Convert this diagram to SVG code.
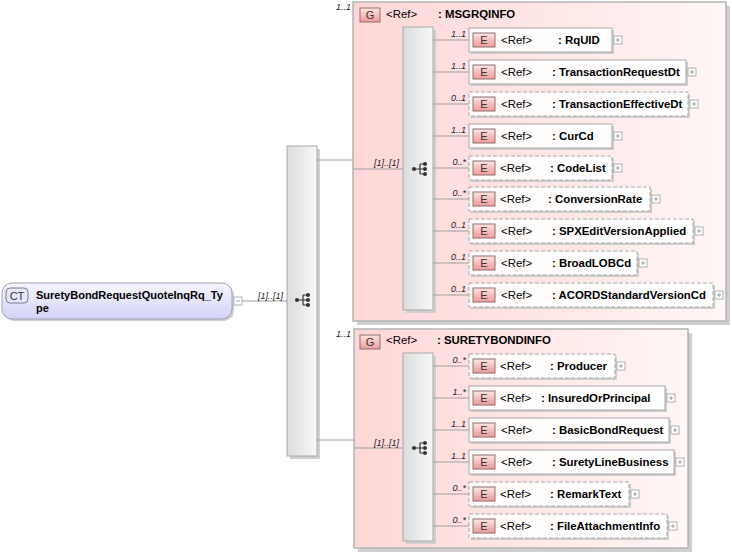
<svg xmlns="http://www.w3.org/2000/svg" xmlns:xlink="http://www.w3.org/1999/xlink" width="732" height="558" viewBox="0 0 732 558">
<style>
text{font-family:"Liberation Sans",Arial,sans-serif;fill:#000}
.nm{font-size:11.4px;font-weight:bold}
.rf{font-size:11.4px}
.card{font-size:9px;font-style:italic;fill:#222}
.badge{font-size:11px;fill:#333;text-anchor:middle}
.conn{stroke:#a0a0a0;stroke-width:1;fill:none}
.shadow{fill:#cfcfcf}
.el{fill:url(#elg);stroke:#a8a8a8;stroke-width:1}
.opt{stroke-dasharray:4,2}
.seq{fill:url(#seqg);stroke:#a8a8a8;stroke-width:1}
.grp{fill:url(#grpg);stroke:#b4b4b4;stroke-width:1.5}
.bdg{fill:url(#bdgg);stroke:#8a7070;stroke-width:1}
.plus{fill:#fff;stroke:#b0b0b0;stroke-width:1}
.pl{stroke:#a0a0a0;stroke-width:1}
</style>
<defs>
<linearGradient id="elg" x1="0" y1="0" x2="1" y2="0"><stop offset="0" stop-color="#fffafa"/><stop offset="1" stop-color="#ffffff"/></linearGradient>
<linearGradient id="seqg" x1="0" y1="0" x2="1" y2="0"><stop offset="0" stop-color="#dcdcdc"/><stop offset="1" stop-color="#f8f8f8"/></linearGradient>
<linearGradient id="grpg" x1="0" y1="0" x2="1" y2="0"><stop offset="0" stop-color="#ffd6d6"/><stop offset="1" stop-color="#fff6f6"/></linearGradient>
<linearGradient id="bdgg" x1="0" y1="0" x2="0" y2="1"><stop offset="0" stop-color="#fde4e4"/><stop offset="1" stop-color="#f09a9a"/></linearGradient>
<linearGradient id="ctg" x1="0" y1="0" x2="0" y2="1"><stop offset="0" stop-color="#f6f6ff"/><stop offset="1" stop-color="#d2d2f6"/></linearGradient>
<g id="seqicon" fill="#333" stroke="#333">
<circle cx="-6" cy="0" r="2" stroke="none"/>
<path d="M-6 0H0M0 -5V5M0 -5H5M0 0H5M0 5H5" stroke-width="1.2" fill="none"/>
<circle cx="5" cy="-5" r="2" stroke="none"/>
<circle cx="5" cy="0" r="2" stroke="none"/>
<circle cx="5" cy="5" r="2" stroke="none"/>
</g>
<g id="plusbox"><rect class="plus" x="0" y="0" width="8" height="8"/><path class="pl" d="M2 4H6M4 2V6"/></g>
</defs>
<rect width="732" height="558" fill="#fff"/>

<g id="ct-root">
<rect x="4" y="285" width="230" height="36" rx="10" fill="#cfcfcf"/>
<rect x="2" y="283" width="230" height="36" rx="10" fill="url(#ctg)" stroke="#a0a0b8" stroke-width="1"/>
<rect x="6" y="288" width="22" height="15" rx="4" fill="#e6e6fa" stroke="#7a7a96"/>
<text class="badge" x="17" y="300">CT</text>
<text class="nm" x="36" y="299" style="font-size:11px">SuretyBondRequestQuoteInqRq_Ty</text>
<text class="nm" x="36" y="312" style="font-size:11px">pe</text>
<rect class="plus" x="234" y="297" width="8" height="8"/>
<path class="pl" d="M236 301H240"/>
</g>

<g id="seq-outer">
<rect class="shadow" x="290" y="149" width="30" height="310"/>
<rect class="seq" x="287" y="146" width="30" height="310"/>
<use xlink:href="#seqicon" x="303" y="300"/>
</g>

<g id="grp-msgrqinfo">
<rect class="shadow" x="357" y="6" width="373" height="319"/>
<rect class="grp" x="353" y="2" width="373" height="319"/>
<text class="card" x="336" y="10">1..1</text>
<rect class="bdg" x="360" y="8" width="20" height="14"/>
<text class="badge" x="370" y="19">G</text>
<text class="rf" x="386" y="18">&lt;Ref&gt;</text>
<text class="nm" x="438" y="18">: MSGRQINFO</text>
<rect class="shadow" x="406" y="30" width="30" height="283"/>
<rect class="seq" x="403" y="27" width="30" height="283"/>
<use xlink:href="#seqicon" x="420" y="169"/>
</g>

<g id="el-rquid">
<path class="conn" d="M433 40H469"/><text class="card" x="466" y="37" text-anchor="end">1..1</text>
<rect class="shadow" x="471" y="30" width="143" height="24"/>
<rect class="el" x="469" y="28" width="143" height="24"/>
<rect class="bdg" x="473" y="33" width="22" height="14"/><text class="badge" x="484" y="44">E</text>
<text class="rf" x="501" y="44">&lt;Ref&gt;</text><text class="nm" x="558" y="44">: RqUID</text>
<use xlink:href="#plusbox" x="614" y="36"/>
</g>
<g id="el-transactionrequestdt">
<path class="conn" d="M433 72H469"/><text class="card" x="466" y="69" text-anchor="end">1..1</text>
<rect class="shadow" x="471" y="62" width="217" height="24"/>
<rect class="el" x="469" y="60" width="217" height="24"/>
<rect class="bdg" x="473" y="65" width="22" height="14"/><text class="badge" x="484" y="76">E</text>
<text class="rf" x="501" y="76">&lt;Ref&gt;</text><text class="nm" x="552" y="76">: TransactionRequestDt</text>
<use xlink:href="#plusbox" x="688" y="68"/>
</g>
<g id="el-transactioneffectivedt">
<path class="conn" d="M433 104H469"/><text class="card" x="466" y="101" text-anchor="end">0..1</text>
<rect class="shadow" x="471" y="94" width="219" height="24"/>
<rect class="el opt" x="469" y="92" width="219" height="24"/>
<rect class="bdg" x="473" y="97" width="22" height="14"/><text class="badge" x="484" y="108">E</text>
<text class="rf" x="501" y="108">&lt;Ref&gt;</text><text class="nm" x="552" y="108">: TransactionEffectiveDt</text>
<use xlink:href="#plusbox" x="690" y="100"/>
</g>
<g id="el-curcd">
<path class="conn" d="M433 136H469"/><text class="card" x="466" y="133" text-anchor="end">1..1</text>
<rect class="shadow" x="471" y="126" width="143" height="24"/>
<rect class="el" x="469" y="124" width="143" height="24"/>
<rect class="bdg" x="473" y="129" width="22" height="14"/><text class="badge" x="484" y="140">E</text>
<text class="rf" x="501" y="140">&lt;Ref&gt;</text><text class="nm" x="552" y="140">: CurCd</text>
<use xlink:href="#plusbox" x="614" y="132"/>
</g>
<g id="el-codelist">
<path class="conn" d="M433 168H469"/><text class="card" x="466" y="165" text-anchor="end">0..*</text>
<rect class="shadow" x="471" y="158" width="143" height="24"/>
<rect class="el opt" x="469" y="156" width="143" height="24"/>
<rect class="bdg" x="473" y="161" width="22" height="14"/><text class="badge" x="484" y="172">E</text>
<text class="rf" x="500" y="172">&lt;Ref&gt;</text><text class="nm" x="550" y="172">: CodeList</text>
<use xlink:href="#plusbox" x="614" y="164"/>
</g>
<g id="el-conversionrate">
<path class="conn" d="M433 199H469"/><text class="card" x="466" y="196" text-anchor="end">0..*</text>
<rect class="shadow" x="471" y="189" width="181" height="24"/>
<rect class="el opt" x="469" y="187" width="181" height="24"/>
<rect class="bdg" x="473" y="192" width="22" height="14"/><text class="badge" x="484" y="203">E</text>
<text class="rf" x="500" y="203">&lt;Ref&gt;</text><text class="nm" x="548" y="203">: ConversionRate</text>
<use xlink:href="#plusbox" x="652" y="195"/>
</g>
<g id="el-spxeditversionapplied">
<path class="conn" d="M433 231H469"/><text class="card" x="466" y="228" text-anchor="end">0..1</text>
<rect class="shadow" x="471" y="221" width="224" height="24"/>
<rect class="el opt" x="469" y="219" width="224" height="24"/>
<rect class="bdg" x="473" y="224" width="22" height="14"/><text class="badge" x="484" y="235">E</text>
<text class="rf" x="501" y="235">&lt;Ref&gt;</text><text class="nm" x="552" y="235">: SPXEditVersionApplied</text>
<use xlink:href="#plusbox" x="695" y="227"/>
</g>
<g id="el-broadlobcd">
<path class="conn" d="M433 263H469"/><text class="card" x="466" y="260" text-anchor="end">0..1</text>
<rect class="shadow" x="471" y="253" width="168" height="24"/>
<rect class="el opt" x="469" y="251" width="168" height="24"/>
<rect class="bdg" x="473" y="256" width="22" height="14"/><text class="badge" x="484" y="267">E</text>
<text class="rf" x="501" y="267">&lt;Ref&gt;</text><text class="nm" x="552" y="267">: BroadLOBCd</text>
<use xlink:href="#plusbox" x="639" y="259"/>
</g>
<g id="el-acordstandardversioncd">
<path class="conn" d="M433 295H469"/><text class="card" x="466" y="292" text-anchor="end">0..1</text>
<rect class="shadow" x="471" y="285" width="244" height="24"/>
<rect class="el opt" x="469" y="283" width="244" height="24"/>
<rect class="bdg" x="473" y="288" width="22" height="14"/><text class="badge" x="484" y="299">E</text>
<text class="rf" x="501" y="299">&lt;Ref&gt;</text><text class="nm" x="552" y="299">: ACORDStandardVersionCd</text>
<use xlink:href="#plusbox" x="715" y="291"/>
</g>

<g id="grp-suretybondinfo">
<rect class="shadow" x="358" y="333" width="334" height="219"/>
<rect class="grp" x="354" y="329" width="334" height="219"/>
<text class="card" x="336" y="337">1..1</text>
<rect class="bdg" x="360" y="335" width="20" height="14"/>
<text class="badge" x="370" y="346">G</text>
<text class="rf" x="386" y="344">&lt;Ref&gt;</text>
<text class="nm" x="437" y="344">: SURETYBONDINFO</text>
<rect class="shadow" x="406" y="356" width="30" height="188"/>
<rect class="seq" x="403" y="353" width="30" height="188"/>
<use xlink:href="#seqicon" x="420" y="448"/>
</g>

<g id="el-producer">
<path class="conn" d="M433 366H469"/><text class="card" x="466" y="363" text-anchor="end">0..*</text>
<rect class="shadow" x="471" y="356" width="146" height="24"/>
<rect class="el opt" x="469" y="354" width="146" height="24"/>
<rect class="bdg" x="473" y="359" width="22" height="14"/><text class="badge" x="484" y="370">E</text>
<text class="rf" x="500" y="370">&lt;Ref&gt;</text><text class="nm" x="550" y="370">: Producer</text>
<use xlink:href="#plusbox" x="617" y="362"/>
</g>
<g id="el-insuredorprincipal">
<path class="conn" d="M433 398H469"/><text class="card" x="466" y="395" text-anchor="end">1..*</text>
<rect class="shadow" x="471" y="388" width="196" height="24"/>
<rect class="el" x="469" y="386" width="196" height="24"/>
<rect class="bdg" x="473" y="391" width="22" height="14"/><text class="badge" x="484" y="402">E</text>
<text class="rf" x="500" y="402">&lt;Ref&gt;</text><text class="nm" x="541" y="402">: InsuredOrPrincipal</text>
<use xlink:href="#plusbox" x="667" y="394"/>
</g>
<g id="el-basicbondrequest">
<path class="conn" d="M433 430H469"/><text class="card" x="466" y="427" text-anchor="end">1..1</text>
<rect class="shadow" x="471" y="420" width="200" height="24"/>
<rect class="el" x="469" y="418" width="200" height="24"/>
<rect class="bdg" x="473" y="423" width="22" height="14"/><text class="badge" x="484" y="434">E</text>
<text class="rf" x="501" y="434">&lt;Ref&gt;</text><text class="nm" x="552" y="434">: BasicBondRequest</text>
<use xlink:href="#plusbox" x="671" y="426"/>
</g>
<g id="el-suretylinebusiness">
<path class="conn" d="M433 462H469"/><text class="card" x="466" y="459" text-anchor="end">1..1</text>
<rect class="shadow" x="471" y="452" width="205" height="24"/>
<rect class="el" x="469" y="450" width="205" height="24"/>
<rect class="bdg" x="473" y="455" width="22" height="14"/><text class="badge" x="484" y="466">E</text>
<text class="rf" x="501" y="466">&lt;Ref&gt;</text><text class="nm" x="552" y="466">: SuretyLineBusiness</text>
<use xlink:href="#plusbox" x="676" y="458"/>
</g>
<g id="el-remarktext">
<path class="conn" d="M433 494H469"/><text class="card" x="466" y="491" text-anchor="end">0..*</text>
<rect class="shadow" x="471" y="484" width="160" height="24"/>
<rect class="el opt" x="469" y="482" width="160" height="24"/>
<rect class="bdg" x="473" y="487" width="22" height="14"/><text class="badge" x="484" y="498">E</text>
<text class="rf" x="500" y="498">&lt;Ref&gt;</text><text class="nm" x="550" y="498">: RemarkText</text>
<use xlink:href="#plusbox" x="631" y="490"/>
</g>
<g id="el-fileattachmentinfo">
<path class="conn" d="M433 526H469"/><text class="card" x="466" y="523" text-anchor="end">0..*</text>
<rect class="shadow" x="471" y="516" width="198" height="24"/>
<rect class="el opt" x="469" y="514" width="198" height="24"/>
<rect class="bdg" x="473" y="519" width="22" height="14"/><text class="badge" x="484" y="530">E</text>
<text class="rf" x="500" y="530">&lt;Ref&gt;</text><text class="nm" x="550" y="530">: FileAttachmentInfo</text>
<use xlink:href="#plusbox" x="669" y="522"/>
</g>

<g id="connectors">
<path class="conn" d="M242 301H287"/>
<text class="card" x="258" y="299">[1]..[1]</text>
<path class="conn" d="M317 160H353"/>
<path class="conn" d="M353 169H403"/>
<text class="card" x="374" y="166">[1]..[1]</text>
<path class="conn" d="M317 440H354"/>
<path class="conn" d="M354 448H403"/>
<text class="card" x="374" y="446">[1]..[1]</text>
</g>
</svg>
